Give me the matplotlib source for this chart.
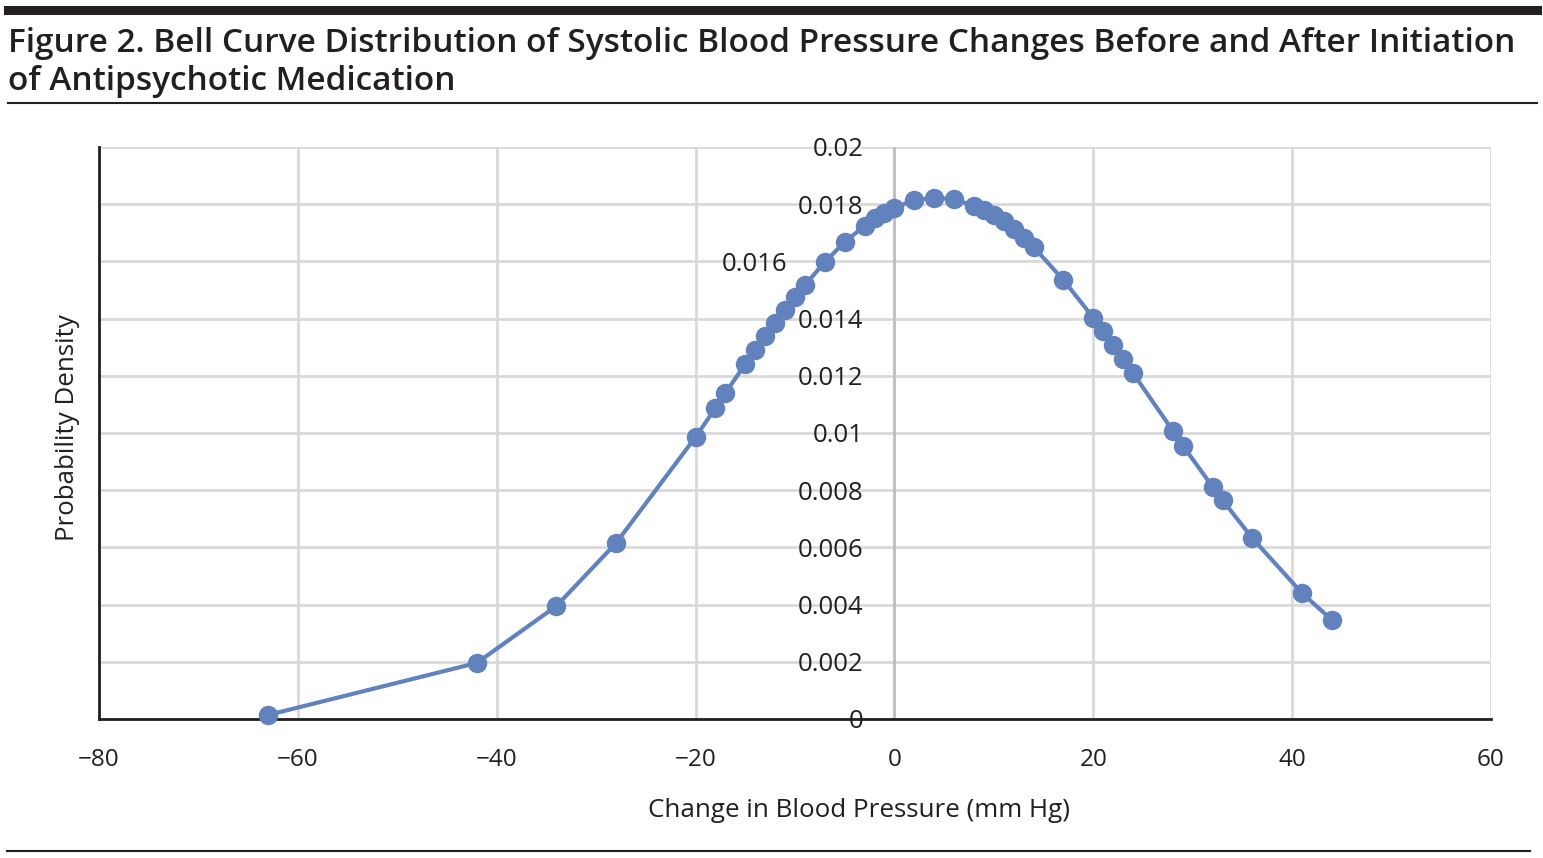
import matplotlib as mpl
import matplotlib.pyplot as plt
from matplotlib.lines import Line2D

# Change in systolic BP (mm Hg) and its probability density
bp_change = [-63, -42, -34, -28, -20, -18, -17, -15, -14, -13, -12, -11, -10, -9,
             -7, -5, -3, -2, -1, 0, 2, 4, 6, 8, 9, 10, 11, 12, 13, 14,
             17, 20, 21, 22, 23, 24, 28, 29, 32, 33, 36, 41, 44]
density = [0.00014, 0.00196, 0.00395, 0.00615, 0.00986, 0.01087, 0.0114, 0.01241,
           0.0129, 0.01339, 0.01385, 0.0143, 0.01476, 0.01517, 0.01598, 0.01668,
           0.01724, 0.01752, 0.01769, 0.01787, 0.01815, 0.01822, 0.01818, 0.01794,
           0.0178, 0.01762, 0.01741, 0.01713, 0.01682, 0.0165, 0.01535, 0.01403,
           0.01358, 0.01308, 0.01259, 0.01209, 0.01008, 0.00956, 0.00812, 0.00765,
           0.00632, 0.0044, 0.00346]

x_ticks = [-80, -60, -40, -20, 0, 20, 40, 60]
y_ticks = [0, 0.002, 0.004, 0.006, 0.008, 0.01, 0.012, 0.014, 0.016, 0.018, 0.02]
y_tick_labels = ["0", "0.002", "0.004", "0.006", "0.008", "0.01", "0.012",
                 "0.014", "0.016", "0.018", "0.02"]

title_lines = ["Figure 2. Bell Curve Distribution of Systolic Blood Pressure Changes Before and After Initiation",
               "of Antipsychotic Medication"]

mpl.rcParams["font.family"] = "Open Sans"
text_color = "#231f20"
line_color = "#6282bd"
grid_color = "#d9d9d9"
W, H = 1543, 858

fig = plt.figure(figsize=(W / 100, H / 100), dpi=100)
ax = fig.add_axes([99 / W, 1 - 719 / H, (1491 - 99) / W, (719 - 147) / H])

ax.plot(bp_change, density, color=line_color, linewidth=3, marker="o",
        markersize=13, zorder=3, clip_on=False)

ax.set_xlim(-80, 60)
ax.set_ylim(0, 0.02)
ax.set_xticks(x_ticks)
ax.set_xticklabels([f"\u2212{abs(v)}" if v < 0 else str(v) for v in x_ticks])
ax.set_yticks(y_ticks)
ax.set_yticklabels([])
ax.tick_params(axis="both", length=0, labelsize=17.5, colors=text_color)
ax.tick_params(axis="x", pad=21)
ax.grid(True, color=grid_color, linewidth=2)
ax.set_axisbelow(True)
ax.axvline(0, color="#bfbfbf", linewidth=2, zorder=1)

for s in ["top", "right"]:
    ax.spines[s].set_visible(False)
for s in ["left", "bottom"]:
    ax.spines[s].set_color(text_color)
    ax.spines[s].set_linewidth(2)

# y tick labels sit beside the vertical line at x = 0
for v, lab in zip(y_ticks, y_tick_labels):
    xpos = -10.8 if lab == "0.016" else -3.1
    ax.text(xpos, v, lab, ha="right", va="center_baseline", fontsize=18.5,
            color=text_color, zorder=4)

fig.text(859 / W, 1 - 817 / H, "Change in Blood Pressure (mm Hg)", ha="center",
         va="baseline", fontsize=18.7, color=text_color)
fig.text(67 / W, 1 - 428 / H, "Probability Density", ha="center", va="center",
         rotation=90, fontsize=18.6, color=text_color)

for i, line in enumerate(title_lines):
    fig.text(8 / W, 1 - (52 + 38 * i) / H, line, ha="left", va="baseline",
             fontsize=24, fontweight="semibold", color=text_color)

fig.add_artist(Line2D([8 / W, 1537 / W], [1 - 10 / H] * 2, color=text_color, linewidth=6.5))
fig.add_artist(Line2D([8 / W, 1537 / W], [1 - 103 / H] * 2, color=text_color, linewidth=1.5))
fig.add_artist(Line2D([7 / W, 1530 / W], [1 - 851 / H] * 2, color=text_color, linewidth=1.5))

fig.savefig("out.png", dpi=100)
